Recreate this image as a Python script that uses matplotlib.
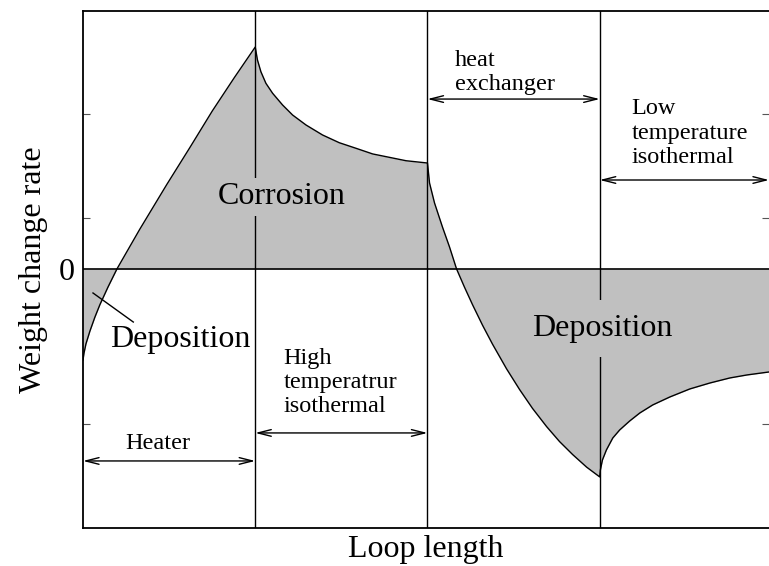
import numpy as np
import matplotlib
matplotlib.use("Agg")
import matplotlib.pyplot as plt

plt.rcParams['font.family'] = ['Liberation Serif', 'DejaVu Serif']

# Weight change rate along the loop (loop length in section units, 0..4)
heater_x = [0.0, 0.006, 0.017, 0.040, 0.069, 0.098, 0.145, 0.197,
            0.329, 0.486, 0.619, 0.751, 0.879, 1.0]
heater_y = [-0.883, -0.816, -0.728, -0.604, -0.468, -0.347, -0.176, 0.0,
            0.384, 0.819, 1.175, 1.535, 1.859, 2.155]

hot_x = [1.0, 1.013, 1.033, 1.062, 1.101, 1.159, 1.217, 1.295, 1.391,
         1.488, 1.585, 1.682, 1.779, 1.876, 2.0]
hot_y = [2.155, 2.029, 1.915, 1.803, 1.706, 1.592, 1.495, 1.398, 1.301,
         1.226, 1.172, 1.117, 1.084, 1.051, 1.029]

hx_x = [2.0, 2.012, 2.041, 2.087, 2.128, 2.169, 2.215, 2.262, 2.320,
        2.378, 2.459, 2.535, 2.610, 2.692, 2.767, 2.843, 2.924, 3.0]
hx_y = [1.029, 0.835, 0.641, 0.408, 0.214, 0.0, -0.177, -0.348, -0.547,
        -0.731, -0.969, -1.171, -1.354, -1.531, -1.676, -1.802, -1.924, -2.019]

cold_x = [3.0, 3.004, 3.016, 3.039, 3.076, 3.116, 3.174, 3.233, 3.308,
          3.407, 3.523, 3.640, 3.756, 3.855, 3.983]
cold_y = [-2.019, -1.951, -1.854, -1.757, -1.641, -1.563, -1.476, -1.398,
          -1.320, -1.243, -1.165, -1.107, -1.058, -1.029, -1.0]

section_edges = [1, 2, 3]
tick_pos = [1.505, 0.495, -1.505]

GRAY = '#c0c0c0'
BIG = 23
SMALL = 17.5

x = np.concatenate([heater_x, hot_x, hx_x, cold_x])
y = np.concatenate([heater_y, hot_y, hx_y, cold_y])

fig = plt.figure(figsize=(7.69, 5.66), dpi=100)
ax = fig.add_axes([83 / 769, 1 - 528 / 566, 1 - 83 / 769, (528 - 11) / 566])

ax.fill_between(x, y, 0, color=GRAY, lw=0, zorder=1)
ax.plot(x, y, color='black', lw=1.0, zorder=3)
ax.axhline(0, color='black', lw=1.2, zorder=2)
for xe in section_edges:
    ax.axvline(xe, color='black', lw=1.0, zorder=2)

ax.set_xlim(0, 3.983)
ax.set_ylim(-2.515, 2.505)

ax.spines['right'].set_visible(False)
for s in ('left', 'top', 'bottom'):
    ax.spines[s].set_linewidth(1.3)

ax.set_xticks([])
ax.set_yticks(tick_pos + [0])
ax.set_yticklabels(['', '', '', '0'], fontsize=BIG)
ax.tick_params(axis='y', direction='in', length=5, width=0.8, color='#555555',
               right=True, pad=6)
ax.yaxis.get_major_ticks()[-1].tick1line.set_visible(False)
ax.yaxis.get_major_ticks()[-1].tick2line.set_visible(False)

ax.set_ylabel('Weight change rate', fontsize=BIG, labelpad=8)
ax.set_xlabel('Loop length', fontsize=BIG, labelpad=5)

# region labels
ax.text(1.155, 0.70, 'Corrosion', fontsize=BIG, ha='center', va='center', zorder=4,
        bbox=dict(facecolor=GRAY, edgecolor='none', pad=3))
ax.text(3.017, -0.58, 'Deposition', fontsize=BIG, ha='center', va='center', zorder=4,
        bbox=dict(facecolor=GRAY, edgecolor='none', pad=10))
ax.text(0.566, -0.68, 'Deposition', fontsize=BIG, ha='center', va='center', zorder=4)
ax.plot([0.292, 0.058], [-0.515, -0.233], color='black', lw=1.0, zorder=4)

# section extents
arrow = dict(arrowstyle='<->,head_length=0.95,head_width=0.24', color='black',
             lw=1.0, shrinkA=0, shrinkB=0)
spans = [(0, 1, -1.864), (1, 2, -1.592), (2, 3, 1.650), (3, 3.983, 0.864)]
for x0, x1, ya in spans:
    ax.annotate('', xy=(x0, ya), xytext=(x1, ya), arrowprops=arrow, zorder=5)

ax.text(0.437, -1.69, 'Heater', fontsize=SMALL, ha='center', va='center')
ax.text(1.163, -1.10, 'High\ntemperatrur\nisothermal', fontsize=SMALL,
        ha='left', va='center', linespacing=1.2)
ax.text(2.157, 1.91, 'heat\nexchanger', fontsize=SMALL,
        ha='left', va='center', linespacing=1.2)
ax.text(3.186, 1.32, 'Low\ntemperature\nisothermal', fontsize=SMALL,
        ha='left', va='center', linespacing=1.2)

fig.savefig('out.png', dpi=100)
